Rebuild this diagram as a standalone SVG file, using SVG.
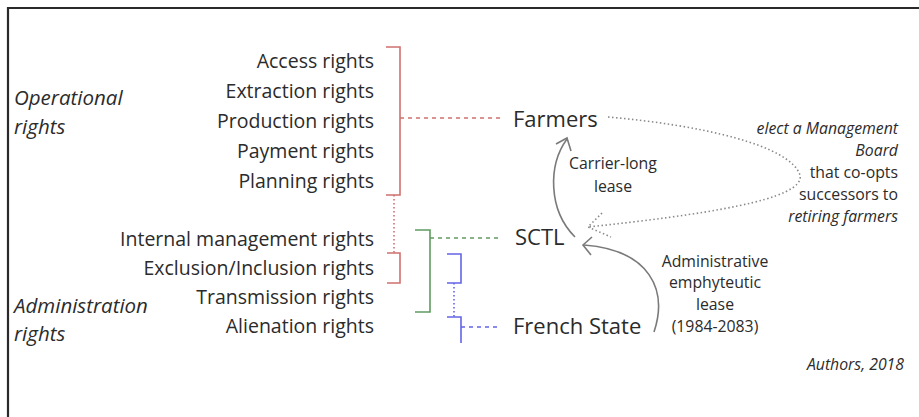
<svg xmlns="http://www.w3.org/2000/svg" width="919" height="417" viewBox="0 0 919 417">
<style>
.t{font-family:"Open Sans","Noto Sans",sans-serif;font-size:19.5px;fill:#2b2b2b}
.r{text-anchor:end}
.i{font-style:italic}
.g{font-size:20.5px}
.n{font-size:22px}
.s{font-family:"Open Sans","Noto Sans",sans-serif;font-size:15.8px;fill:#2b2b2b}
.red{stroke:#d0706e;fill:none;stroke-width:1.6}
.grn{stroke:#5f9a60;fill:none;stroke-width:1.6}
.blu{stroke:#6464e6;fill:none;stroke-width:1.6}
.arr{stroke:#7a7a7a;fill:none;stroke-width:1.6}
.dot{stroke:#8a8a8a;fill:none;stroke-width:1.6;stroke-dasharray:1.5 2.5}
</style>
<rect width="919" height="417" fill="#fff"/>
<path d="M8 417 V8 H919" fill="none" stroke="#2a2a2a" stroke-width="2.2"/>
<g id="operational">
<text class="t i g" x="14" y="105">Operational</text>
<text class="t i g" x="14" y="134">rights</text>
</g>
<g id="administration">
<text class="t i g" x="14" y="313">Administration</text>
<text class="t i g" x="14" y="341">rights</text>
</g>
<g id="rights-list">
<text class="t r" x="374" y="68">Access rights</text>
<text class="t r" x="374" y="98">Extraction rights</text>
<text class="t r" x="374" y="128">Production rights</text>
<text class="t r" x="374" y="158">Payment rights</text>
<text class="t r" x="374" y="188">Planning rights</text>
<text class="t r" x="374" y="246">Internal management rights</text>
<text class="t r" x="374" y="275">Exclusion/Inclusion rights</text>
<text class="t r" x="374" y="304">Transmission rights</text>
<text class="t r" x="374" y="333">Alienation rights</text>
</g>
<g id="farmers"><text class="t n" x="513" y="127">Farmers</text></g>
<g id="sctl"><text class="t n" x="515" y="245">SCTL</text></g>
<g id="french-state"><text class="t n" x="513" y="334">French State</text></g>
<g id="connectors">
<path class="red" d="M386 47 H400 V195 H386"/>
<path class="red" d="M400 118 H502" stroke-dasharray="4 4"/>
<path class="red" d="M394 195 V253" stroke-dasharray="1.5 2.5" stroke-width="1.2"/>
<path class="red" d="M387 253 H400 V283 H387"/>
<path class="grn" d="M415 230 H430 V312 H415"/>
<path class="grn" d="M430 238 H498" stroke-dasharray="4 4"/>
<path class="blu" d="M447 254 H461 V283 H447"/>
<path class="blu" d="M454 283 V317" stroke-dasharray="1.5 2.5" stroke-width="1.2"/>
<path class="blu" d="M447 317 H461 V343"/>
<path class="blu" d="M461 327 H498" stroke-dasharray="4 4"/>
<path class="arr" d="M575 237 C548 210 548 165 567 139"/>
<path class="arr" d="M556 144 L567 138 L571 151"/>
<path class="arr" d="M654 332 C668 290 650 250 584 245"/>
<path class="arr" d="M592 237 L583 245 L591 255"/>
<path class="dot" d="M608 117 C700 125 790 145 800 175 C806 200 700 215 588 227"/>
<path class="dot" d="M602 213 L588 227 L611 237"/>
</g>
<g id="labels">
<text class="s" text-anchor="middle" x="613" y="169">Carrier-long</text>
<text class="s" text-anchor="middle" x="613" y="192">lease</text>
<text class="s" text-anchor="middle" x="715" y="267">Administrative</text>
<text class="s" text-anchor="middle" x="715" y="288">emphyteutic</text>
<text class="s" text-anchor="middle" x="715" y="310">lease</text>
<text class="s" text-anchor="middle" x="715" y="332">(1984-2083)</text>
<text class="s r i" x="898" y="134">elect a Management</text>
<text class="s r i" x="898" y="156">Board</text>
<text class="s r" x="898" y="178">that co-opts</text>
<text class="s r" x="898" y="200">successors to</text>
<text class="s r i" x="898" y="222">retiring farmers</text>
<text class="s r i" x="904" y="370">Authors, 2018</text>
</g>
</svg>
